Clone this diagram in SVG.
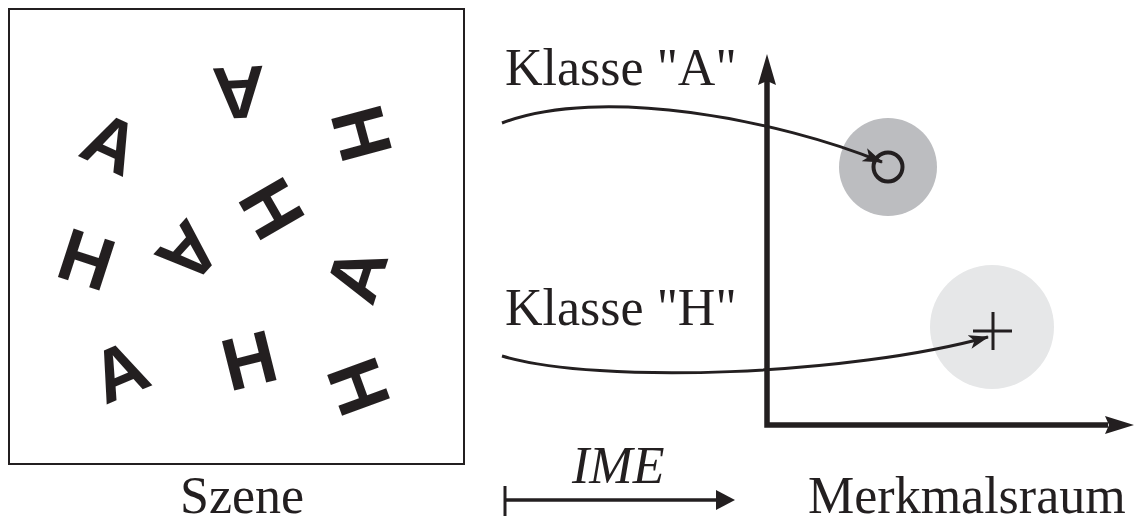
<svg xmlns="http://www.w3.org/2000/svg" width="1137" height="525" viewBox="0 0 1137 525">
<style>
.lbl{font-family:"Liberation Serif","Times New Roman",serif;font-size:52px;fill:#231f20}
.ital{font-style:italic}
.let{font-family:"Liberation Sans",Arial,sans-serif;font-weight:bold;font-size:74px;fill:#231f20;text-anchor:middle}
.conn{fill:none;stroke:#231f20;stroke-width:3}
.axis{fill:none;stroke:#231f20;stroke-width:5.5}
.head{fill:#231f20}
</style>
<defs>
<marker id="ah" markerUnits="userSpaceOnUse" markerWidth="20" markerHeight="16" refX="19" refY="8" orient="auto" viewBox="0 0 20 16">
<path d="M0,1 L20,8 L0,15 L5,8 Z" fill="#231f20"/>
</marker>
</defs>
<rect width="1137" height="525" fill="#ffffff"/>

<g id="szene">
<rect x="9" y="9" width="455" height="455" fill="none" stroke="#231f20" stroke-width="2"/>
<g transform="translate(112,142) rotate(25)"><text class="let" x="0" y="27">A</text></g>
<g transform="translate(239,94) rotate(177)"><text class="let" x="0" y="27">A</text></g>
<g transform="translate(363,133) rotate(75)"><text class="let" x="0" y="27">H</text></g>
<g transform="translate(273,208) rotate(60)"><text class="let" x="0" y="27">H</text></g>
<g transform="translate(87,258) rotate(18)"><text class="let" x="0" y="27">H</text></g>
<g transform="translate(190,254) rotate(132)"><text class="let" x="0" y="27">A</text></g>
<g transform="translate(355,274) rotate(-72)"><text class="let" x="0" y="27">A</text></g>
<g transform="translate(119,370) rotate(-23)"><text class="let" x="0" y="27">A</text></g>
<g transform="translate(249,359) rotate(-14)"><text class="let" x="0" y="27">H</text></g>
<g transform="translate(360,386) rotate(70)"><text class="let" x="0" y="27">H</text></g>
</g>
<text class="lbl" x="180" y="513">Szene</text>

<g id="merkmalsraum">
<circle id="clusterA" cx="888" cy="167" r="49" fill="#bcbdc0"/>
<circle id="clusterH" cx="992" cy="327" r="62" fill="#e6e7e8"/>
<circle cx="888" cy="167" r="14.5" fill="none" stroke="#231f20" stroke-width="4"/>
<path d="M973,331 H1012 M993,312 V350" stroke="#231f20" stroke-width="3" fill="none"/>
<path class="axis" d="M767,80 V425 H1108"/>
<polygon class="head" points="767,54 776,85 767,81 758,85"/>
<polygon class="head" points="1134,425 1105,434 1109,425 1105,416"/>
</g>
<text class="lbl" x="808" y="513">Merkmalsraum</text>

<g id="connectors">
<path class="conn" d="M502,123 C600,85 780,120 882,162" marker-end="url(#ah)"/>
<path class="conn" d="M502,356 C600,385 850,375 988,337" marker-end="url(#ah)"/>
<path d="M505,486 V516" stroke="#231f20" stroke-width="3" fill="none"/>
<path d="M505,500 H720" stroke="#231f20" stroke-width="3.5" fill="none"/>
<polygon class="head" points="735,500 716,490 716,510"/>
</g>
<text class="lbl" x="505" y="85">Klasse "A"</text>
<text class="lbl" x="505" y="325">Klasse "H"</text>
<text class="lbl ital" x="572" y="483" font-size="50">IME</text>
</svg>
